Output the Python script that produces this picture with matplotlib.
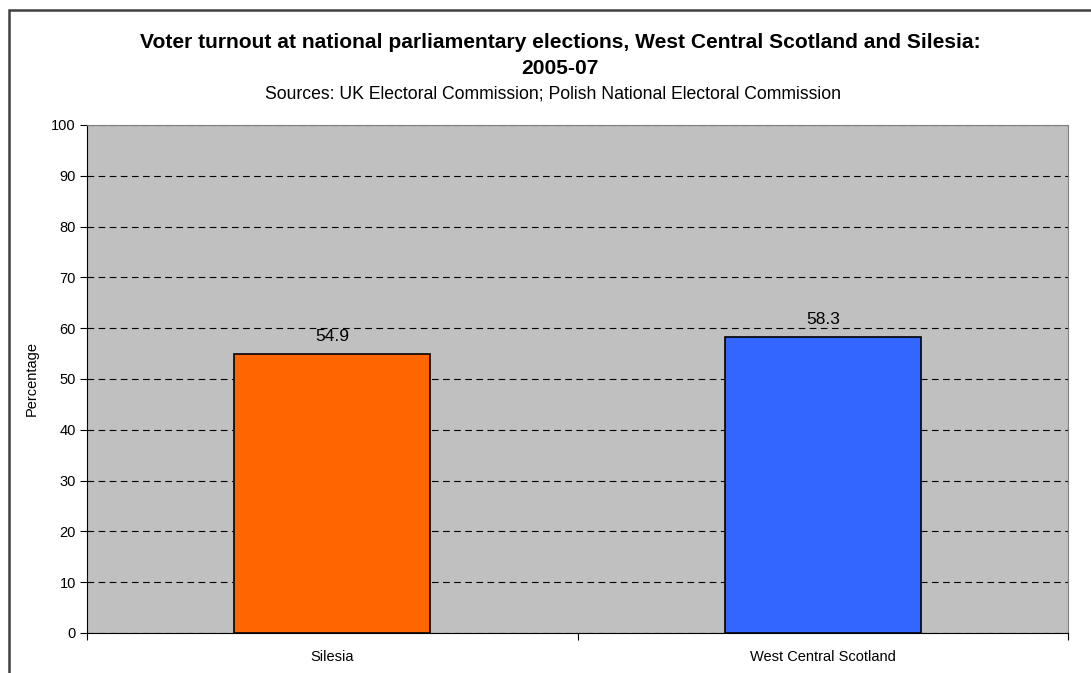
import numpy as np
import matplotlib.pyplot as plt
from matplotlib.patches import Rectangle

plt.rcParams['font.family'] = ['Liberation Sans', 'DejaVu Sans']

# Turnout data
regions = ['Silesia', 'West Central Scotland']
turnout = [54.9, 58.3]
bar_colors = ['#FF6600', '#3366FF']
yticks = np.arange(0, 101, 10)

fig = plt.figure(figsize=(10.91, 6.73), dpi=100)
ax = fig.add_axes([87 / 1091, 1 - 633 / 673, (1068 - 87) / 1091, (633 - 125) / 673])
ax.set_facecolor('#C0C0C0')

x = np.arange(len(regions))
bars = ax.bar(x, turnout, width=0.4, color=bar_colors, edgecolor='black', linewidth=1.2, zorder=3)
for b, v in zip(bars, turnout):
    ax.text(b.get_x() + b.get_width() / 2, v + 2, f'{v:.1f}', ha='center', va='bottom', fontsize=12.5, zorder=4)

ax.set_xlim(-0.5, len(regions) - 0.5)
ax.set_ylim(0, 100)
ax.set_yticks(yticks)
ax.set_yticklabels([str(t) for t in yticks], fontsize=10.5)
ax.yaxis.grid(True, linestyle=(0, (6, 4)), color='black', linewidth=0.8, zorder=1)
ax.set_axisbelow(True)

# category boundaries carry the x ticks
ax.set_xticks([-0.5, 0.5, 1.5])
ax.set_xticklabels([])
ax.set_xticks(x, minor=True)
ax.set_xticklabels(regions, minor=True, fontsize=10.5)
ax.tick_params(axis='x', which='minor', length=0, pad=12)
ax.tick_params(axis='x', which='major', length=5, direction='out')
ax.tick_params(axis='y', length=5, direction='out', pad=3)

ax.set_ylabel('Percentage', fontsize=10.5, labelpad=9)

ax.spines['left'].set_color('black')
ax.spines['bottom'].set_color('black')
ax.spines['top'].set_color('#808080')
ax.spines['right'].set_color('#808080')

fig.text(560 / 1091, 1 - 42 / 673, 'Voter turnout at national parliamentary elections, West Central Scotland and Silesia:',
         ha='center', va='center', fontsize=15.15, fontweight='bold')
fig.text(560 / 1091, 1 - 68 / 673, '2005-07', ha='center', va='center', fontsize=15.15, fontweight='bold')
fig.text(553 / 1091, 1 - 94 / 673, 'Sources: UK Electoral Commission; Polish National Electoral Commission',
         ha='center', va='center', fontsize=12.7)

# outer chart frame (right and bottom edges fall outside the image)
fig.patches.append(Rectangle((9 / 1091, -0.2), 1.5, 1.2 - 10 / 673, transform=fig.transFigure,
                             fill=False, edgecolor='#404040', linewidth=1.8))

fig.savefig('out.png', dpi=100)
